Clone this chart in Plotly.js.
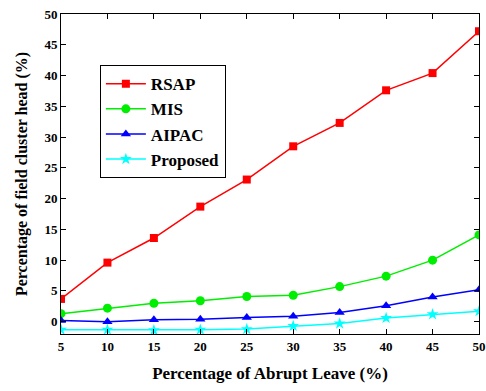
<!DOCTYPE html>
<html>
<head>
<meta charset="utf-8">
<script src="https://cdn.plot.ly/plotly-3.0.1.min.js"></script>
<style>html,body{margin:0;padding:0;background:#fff;}#chart{width:486px;height:391px;}</style>
</head>
<body>
<div id="chart"></div>
<script>
const abruptLeave = [5, 10, 15, 20, 25, 30, 35, 40, 45, 50];
const rsap = [3.7, 9.6, 13.6, 18.7, 23.1, 28.5, 32.3, 37.6, 40.4, 47.2];
const mis = [1.3, 2.2, 3.0, 3.4, 4.1, 4.3, 5.7, 7.4, 10.0, 14.1];
const aipac = [0.2, 0.0, 0.3, 0.4, 0.7, 0.9, 1.5, 2.6, 4.0, 5.2];
const proposed = [-1.3, -1.3, -1.4, -1.3, -1.2, -0.7, -0.3, 0.6, 1.2, 1.7];
const yTicks = [0, 5, 10, 15, 20, 25, 30, 35, 40, 45, 50];
const seriesNames = ['RSAP', 'MIS', 'AIPAC', 'Proposed'];

const fam = 'Times New Roman';
const b = s => '<b>' + s + '</b>';
function tr(name, y, color, symbol, size) {
  return {x: abruptLeave, y: y, name: b(name), type: 'scatter', mode: 'lines+markers',
    line: {color: color, width: 1.5}, marker: {color: color, symbol: symbol, size: size}};
}
const data = [
  tr(seriesNames[0], rsap, '#ff0000', 'square', 8),
  tr(seriesNames[1], mis, '#00ee00', 'circle', 9),
  tr(seriesNames[2], aipac, '#0000ff', 'triangle-up', 9),
  tr(seriesNames[3], proposed, '#00ffff', 'star', 9)
];
const axisCommon = {showgrid: false, zeroline: false, showline: true, linecolor: '#000', linewidth: 1,
  mirror: 'ticks', ticks: 'inside', ticklen: 5, tickcolor: '#000',
  tickfont: {family: fam, size: 13, color: '#000'}};
const layout = {
  width: 486, height: 391,
  font: {family: fam, size: 14, color: '#000'},
  margin: {l: 61, r: 7, t: 14, b: 57},
  paper_bgcolor: '#fff', plot_bgcolor: '#fff',
  showlegend: true,
  legend: {x: 0.093, y: 0.84, xanchor: 'left', yanchor: 'top', bordercolor: '#000', borderwidth: 1,
    bgcolor: '#fff', font: {family: fam, size: 17, color: '#000'},
    tracegroupgap: 0, itemwidth: 40},
  xaxis: Object.assign({}, axisCommon, {range: [5, 50], tickvals: abruptLeave, ticktext: abruptLeave.map(v => b(v)),
    title: {text: b('Percentage of Abrupt Leave (%)'), font: {family: fam, size: 17, color: '#000'}, standoff: 14}}),
  yaxis: Object.assign({}, axisCommon, {range: [-2, 50], tickvals: yTicks, ticktext: yTicks.map(v => b(v)),
    title: {text: b('Percentage of field cluster head (%)'), font: {family: fam, size: 16, color: '#000'}, standoff: 12}})
};
Plotly.newPlot('chart', data, layout, {displayModeBar: false, staticPlot: true});
</script>
</body>
</html>
